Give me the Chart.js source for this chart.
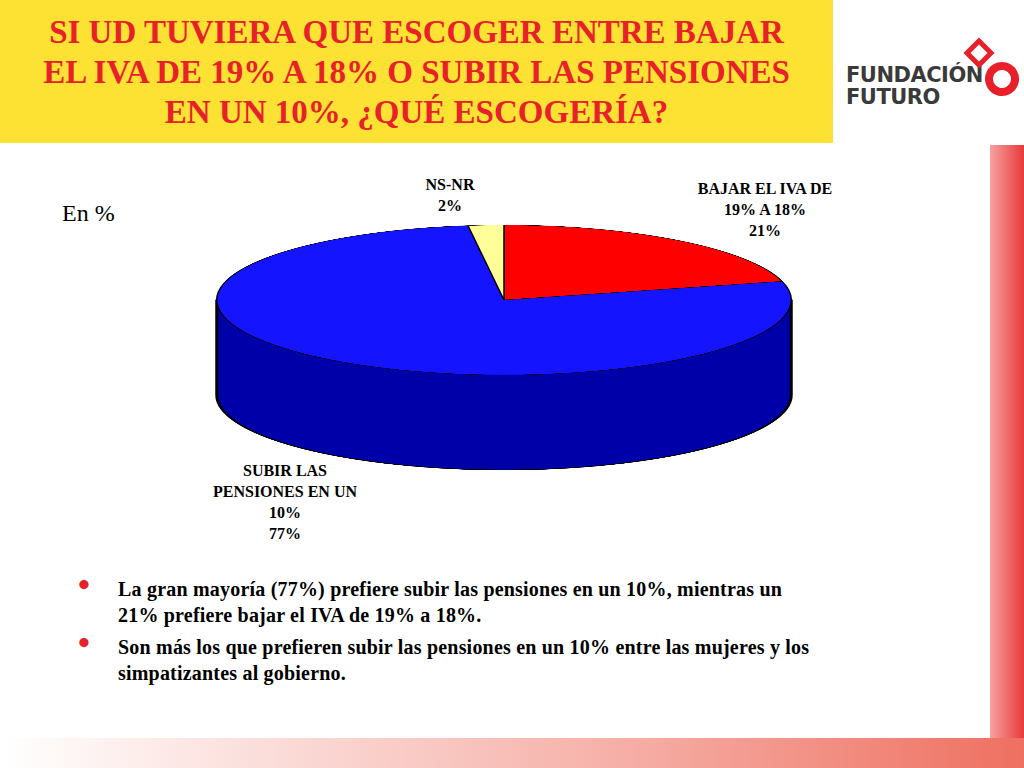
<!DOCTYPE html>
<html><head><meta charset="utf-8">
<script src="https://cdn.jsdelivr.net/npm/chart.js@4"></script>
<style>
body{margin:0;width:1024px;height:768px;position:relative;overflow:hidden;background:#fff;font-family:"Liberation Serif","Times New Roman",serif}
.t{position:absolute}
#title{left:0;top:0;width:833px;height:143px;background:#fde234;color:#e8202a;font-weight:bold;font-size:33px;line-height:40px;text-align:center;box-sizing:border-box;padding-top:12px}
.lbl{position:absolute;font-weight:bold;font-size:16px;line-height:21px;text-align:center;color:#000}
#right{left:990px;top:145px;width:34px;height:595px;background:linear-gradient(to right,#f7a0a0,#e83a3a)}
#bottom{left:0;top:738px;width:1024px;height:30px;background:linear-gradient(to right,#fff,#f6b0a8 60%,#ee7060)}
ul{position:absolute;left:78px;top:576px;width:745px;margin:0;padding:0;list-style:none;font-weight:bold;font-size:20px;line-height:26px;letter-spacing:0.2px}
li{position:relative;padding-left:40px;margin-bottom:6px}
li:before{content:"•";color:#e8202a;position:absolute;left:0;top:-4px;font-size:34px}
#cv{position:absolute;left:214px;top:224px;transform:scaleY(0.261);transform-origin:0 0}
</style></head><body>
<div id="title" class="t">SI UD TUVIERA QUE ESCOGER ENTRE BAJAR<br>EL IVA DE 19% A 18% O SUBIR LAS PENSIONES<br>EN UN 10%, ¿QUÉ ESCOGERÍA?</div>
<div class="t" style="left:846px;top:64px;font-family:'DejaVu Sans';font-weight:bold;font-size:21px;line-height:22px;color:#3a3a3a;letter-spacing:-0.5px">FUNDACIÓN<br>FUTURO</div>
<div class="t" style="left:985px;top:62px;width:18px;height:18px;border:8px solid #e8202a;border-radius:50%;transform:rotate(-30deg)"></div>
<div class="t" style="left:968px;top:42px;width:12px;height:12px;border:5px solid #e8202a;transform:rotate(45deg)"></div>
<div id="right" class="t"></div><div id="bottom" class="t"></div>
<div class="t" style="left:62px;top:200px;font-size:24px">En %</div>
<div class="lbl" style="left:400px;top:174px;width:100px">NS-NR<br>2%</div>
<div class="lbl" style="left:660px;top:178px;width:210px">BAJAR EL IVA DE<br>19% A 18%<br>21%</div>
<div class="lbl" style="left:180px;top:460px;width:210px">SUBIR LAS<br>PENSIONES EN UN<br>10%<br>77%</div>
<canvas id="cv" width="580" height="944"></canvas>
<ul><li>La gran mayoría (77%) prefiere subir las pensiones en un 10%, mientras un 21% prefiere bajar el IVA de 19% a 18%.</li>
<li>Son más los que prefieren subir las pensiones en un 10% entre las mujeres y los simpatizantes al gobierno.</li></ul>
<script>
const categories=["BAJAR EL IVA DE 19% A 18%","SUBIR LAS PENSIONES EN UN 10%","NS-NR"];
const values=[21,77,2];
const colors=["#ff0000","#1414ff","#ffff99"];
const DEPTH=364;
const depthPlugin={id:"depth",beforeDatasetsDraw(chart){
 const a=chart.getDatasetMeta(0).data[0];const cx=a.x,cy=a.y,r=a.outerRadius,ctx=chart.ctx;
 ctx.save();ctx.fillStyle="#0000a8";ctx.strokeStyle="#000";ctx.lineWidth=3;
 ctx.beginPath();ctx.moveTo(cx-r,cy);ctx.lineTo(cx-r,cy+DEPTH);
 ctx.arc(cx,cy+DEPTH,r,Math.PI,0,true);ctx.lineTo(cx+r,cy);ctx.closePath();ctx.fill();ctx.stroke();ctx.restore();}};
new Chart(document.getElementById("cv"),{type:"pie",
 data:{labels:categories,datasets:[{data:values,backgroundColor:colors,borderColor:"#000",borderWidth:1.5}]},
 options:{responsive:false,animation:false,devicePixelRatio:1,layout:{padding:{bottom:DEPTH,top:2,left:2,right:2}},
 plugins:{legend:{display:false},tooltip:{enabled:false}}},plugins:[depthPlugin]});
</script></body></html>
